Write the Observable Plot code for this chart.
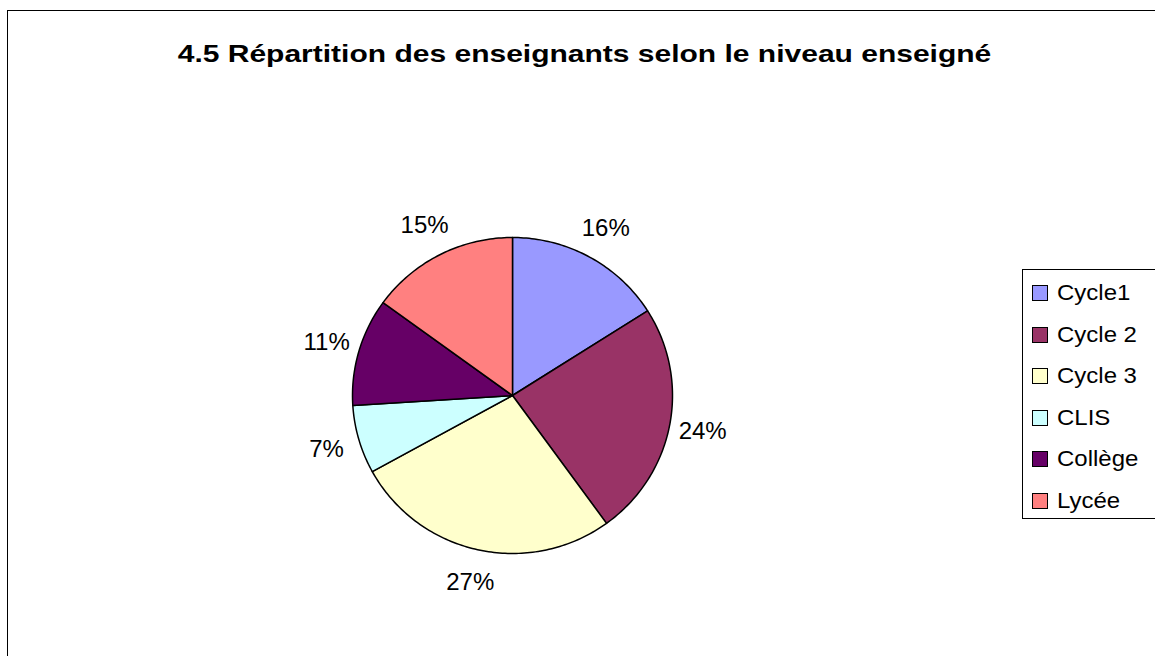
<!DOCTYPE html>
<html>
<head>
<meta charset="utf-8">
<script src="https://cdn.jsdelivr.net/npm/d3@7"></script>
<script src="https://cdn.jsdelivr.net/npm/@observablehq/plot@0.6"></script>
<style>
  html, body { margin: 0; padding: 0; background: #fff; }
  body { font-family: "Liberation Sans", Arial, sans-serif; }
  #wrap { position: relative; width: 1155px; height: 656px; overflow: hidden; }
  #frame { position: absolute; left: 7px; top: 10px; width: 1200px; height: 700px;
           border-left: 1px solid #000; border-top: 1px solid #000; }
  #title { position: absolute; left: 0; width: 1169px; top: 40px; text-align: center;
           font-weight: bold; font-size: 24px; line-height: 28px; color: #000;
           transform: scaleX(1.25); transform-origin: 584.5px 50%; white-space: nowrap; }
  #chart { position: absolute; left: 0; top: 0; }
  #legend { position: absolute; left: 1022px; top: 269px; width: 140px; height: 250px;
            border: 1px solid #000; background: #fff; box-sizing: border-box; }
  .item { position: absolute; left: 9px; height: 24px; display: flex; align-items: center;
          font-size: 22px; color: #000; }
  .sw { width: 14px; height: 14px; border: 1px solid #000; margin-right: 9px; }
  .lt { display: inline-block; transform: scaleX(1.09); transform-origin: 0 50%; }
</style>
</head>
<body>
<div id="wrap">
  <div id="frame"></div>
  <div id="chart"></div>
  <div id="title">4.5 Répartition des enseignants selon le niveau enseigné</div>
  <div id="legend"></div>
</div>
<script>
const categories = ["Cycle1", "Cycle 2", "Cycle 3", "CLIS", "Collège", "Lycée"];
const values = [16, 24, 27, 7, 11, 15];
const colors = ["#9999FF", "#993366", "#FFFFCC", "#CCFFFF", "#660066", "#FF8080"];

const total = d3.sum(values);
const slices = [];
const labels = [];
let acc = 0;
categories.forEach((name, i) => {
  const a0 = acc / total * 2 * Math.PI;
  acc += values[i];
  const a1 = acc / total * 2 * Math.PI;
  slices.push({name, x: 0, y: 0});
  const n = Math.max(2, Math.ceil((a1 - a0) / (Math.PI / 180)));
  for (let k = 0; k <= n; k++) {
    const a = a0 + (a1 - a0) * k / n;
    slices.push({name, x: Math.sin(a), y: Math.cos(a)});
  }
  const am = (a0 + a1) / 2;
  labels.push({name, x: 1.21 * Math.sin(am), y: 1.21 * Math.cos(am), text: Math.round(values[i] / total * 100) + "%"});
});

const plot = Plot.plot({
  width: 1155,
  height: 656,
  margin: 0,
  x: {domain: [-1, 1], range: [352, 672], axis: null},
  y: {domain: [-1, 1], range: [553, 237], axis: null},
  color: {domain: categories, range: colors},
  style: {fontFamily: "'Liberation Sans', Arial, sans-serif", background: "transparent"},
  marks: [
    Plot.line(slices, {x: "x", y: "y", z: "name", fill: "name", stroke: "#000", strokeWidth: 1.5, curve: "linear-closed", strokeLinejoin: "round"}),
    Plot.text(labels, {x: "x", y: "y", text: "text", fontSize: 24, fill: "#000"})
  ]
});
document.getElementById("chart").appendChild(plot);

const legend = document.getElementById("legend");
categories.forEach((name, i) => {
  const it = document.createElement("div");
  it.className = "item";
  it.style.top = (11 + i * 41.6) + "px";
  const sw = document.createElement("div");
  sw.className = "sw";
  sw.style.background = colors[i];
  it.appendChild(sw);
  const t = document.createElement("span");
  t.className = "lt";
  t.textContent = name;
  it.appendChild(t);
  legend.appendChild(it);
});
</script>
</body>
</html>
